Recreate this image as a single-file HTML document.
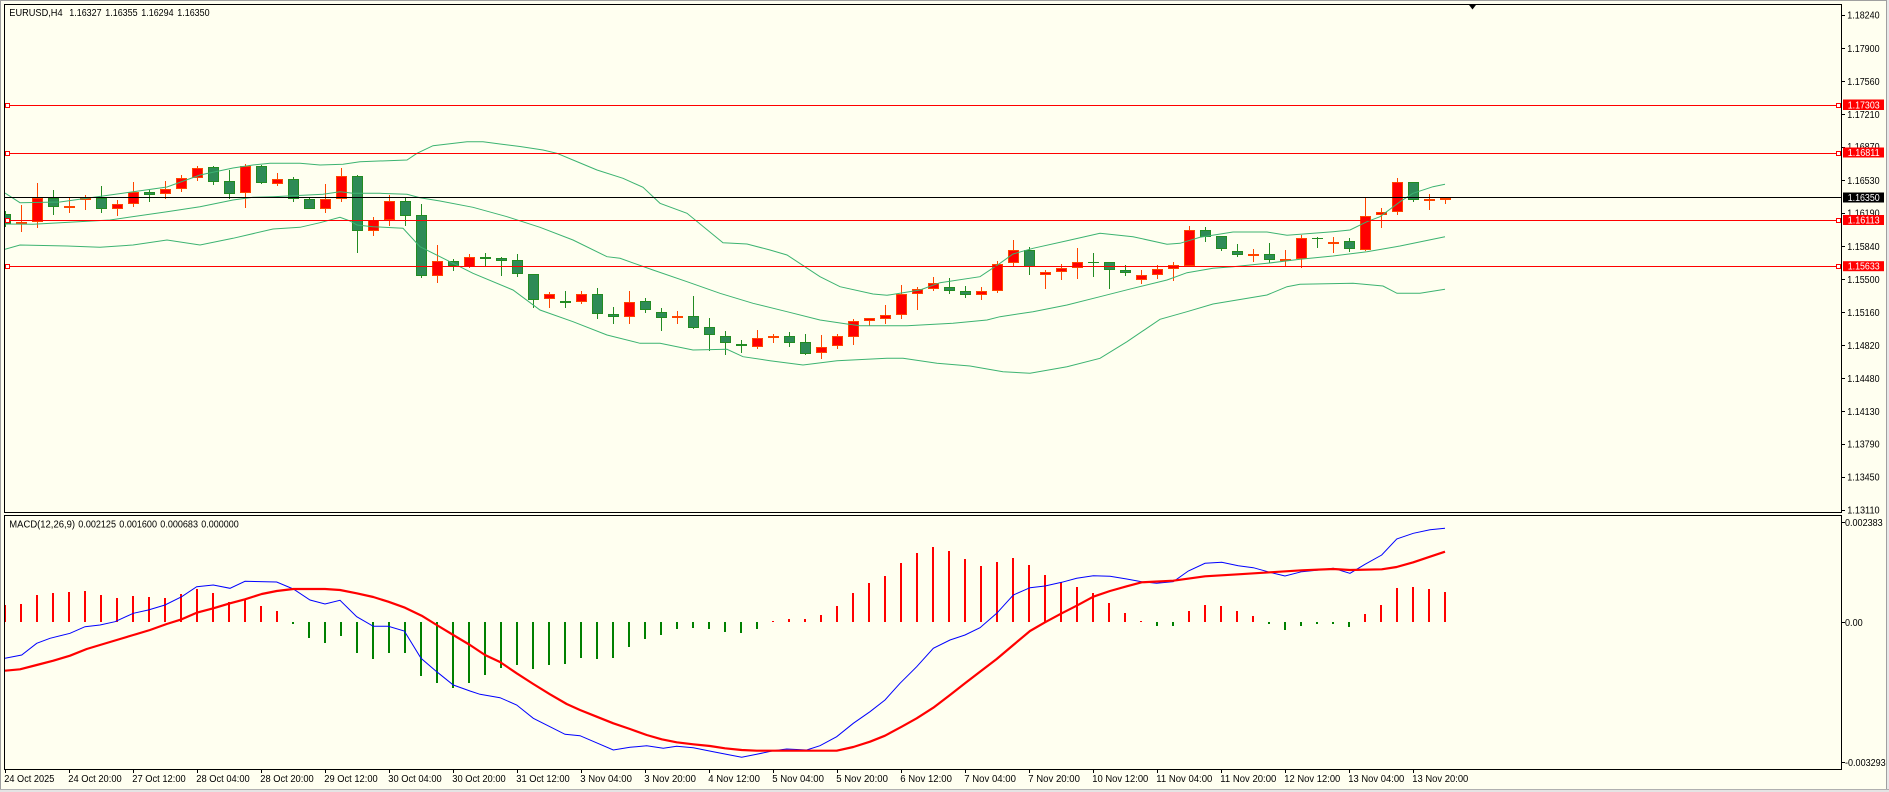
<!DOCTYPE html>
<html><head><meta charset="utf-8"><style>
html,body{margin:0;padding:0;background:#FFFFF0;}
svg{display:block;}
text{font-family:"Liberation Sans",Arial,sans-serif;font-size:10px;fill:#000;}
</style></head><body>
<svg xmlns="http://www.w3.org/2000/svg" width="1889" height="792" viewBox="0 0 1889 792">
<defs>
<clipPath id="cm"><rect x="5" y="5" width="1836" height="507"/></clipPath>
<clipPath id="cs"><rect x="5" y="516" width="1836" height="253"/></clipPath>
</defs>
<rect x="0" y="0" width="1889" height="792" fill="#FFFFF0"/>
<rect x="0" y="0" width="1889" height="1" fill="#A0A0A0"/>
<rect x="0" y="0" width="1" height="792" fill="#A0A0A0"/>
<rect x="1887" y="0" width="2" height="792" fill="#E8E8E8"/>
<rect x="1886" y="0" width="1" height="792" fill="#A0A0A0"/>
<rect x="0" y="789" width="1889" height="3" fill="#E4E4E4"/>
<rect x="0" y="789" width="1889" height="1" fill="#B0B0B0"/>

<g clip-path="url(#cm)">
<!-- red wicks -->
<path fill="none" stroke="#FF4500" stroke-width="1" d="M21.5 205V232M37.5 183V228M69.5 197V213M85.5 195V210M117.5 200V216M133.5 182V207M165.5 181V199M181.5 175V192M197.5 166V181M245.5 164V208M277.5 173V186M325.5 184V213M341.5 168V202M373.5 217V236M389.5 195V226M437.5 245V283M469.5 254V268M549.5 292V308M581.5 291V304M629.5 291V324M677.5 311V324M757.5 330V349M773.5 334V343M821.5 335V359M837.5 334V349M853.5 319V345M869.5 318V326M885.5 305V324M901.5 285V319M917.5 287V310M933.5 277V291M981.5 287V300M997.5 261V293M1013.5 240V266M1045.5 270V289M1061.5 264V280M1077.5 248V279M1141.5 270V284M1157.5 265V279M1173.5 262V281M1189.5 226V267M1253.5 249V262M1285.5 250V266M1301.5 235V268M1333.5 237V253M1365.5 198V251M1381.5 208V228M1397.5 178V215M1429.5 194V210M1445.5 198V204"/>
<!-- green wicks -->
<path fill="none" stroke="#228B22" stroke-width="1" d="M5.5 211V227M53.5 190V215M101.5 186V213M149.5 190V202M213.5 166V185M229.5 170V199M261.5 165V184M293.5 177V202M309.5 197V209M357.5 175V253M405.5 197V226M421.5 204V278M453.5 259V271M485.5 253V266M501.5 257V276M517.5 254V277M533.5 274V308M565.5 291V308M597.5 288V319M613.5 307V324M645.5 298V313M661.5 308V331M693.5 296V329M709.5 318V351M725.5 331V355M741.5 340V353M789.5 332V347M805.5 334V355M949.5 278V294M965.5 286V298M1029.5 247V275M1093.5 253V277M1109.5 262V289M1125.5 265V276M1205.5 227V242M1221.5 236V251M1237.5 244V257M1269.5 243V263M1317.5 237V248M1349.5 238V252M1413.5 182V202"/>
<!-- red bodies -->
<g fill="#FF0000" stroke="#FF4500" stroke-width="1">
<rect x="16.5" y="222.5" width="10" height="1"/>
<rect x="32.5" y="198.5" width="10" height="23"/>
<rect x="64.5" y="206.5" width="10" height="1"/>
<rect x="80.5" y="198.5" width="10" height="1"/>
<rect x="112.5" y="204.5" width="10" height="4"/>
<rect x="128.5" y="192.5" width="10" height="11"/>
<rect x="160.5" y="189.5" width="10" height="4"/>
<rect x="176.5" y="178.5" width="10" height="10"/>
<rect x="192.5" y="168.5" width="10" height="9"/>
<rect x="240.5" y="166.5" width="10" height="26"/>
<rect x="272.5" y="179.5" width="10" height="4"/>
<rect x="320.5" y="199.5" width="10" height="9"/>
<rect x="336.5" y="176.5" width="10" height="22"/>
<rect x="368.5" y="220.5" width="10" height="10"/>
<rect x="384.5" y="201.5" width="10" height="18"/>
<rect x="432.5" y="261.5" width="10" height="14"/>
<rect x="464.5" y="257.5" width="10" height="9"/>
<rect x="544.5" y="294.5" width="10" height="4"/>
<rect x="576.5" y="294.5" width="10" height="7"/>
<rect x="624.5" y="302.5" width="10" height="14"/>
<rect x="672.5" y="316.5" width="10" height="1"/>
<rect x="752.5" y="338.5" width="10" height="8"/>
<rect x="768.5" y="336.5" width="10" height="1"/>
<rect x="816.5" y="347.5" width="10" height="5"/>
<rect x="832.5" y="336.5" width="10" height="9"/>
<rect x="848.5" y="321.5" width="10" height="15"/>
<rect x="864.5" y="318.5" width="10" height="2"/>
<rect x="880.5" y="315.5" width="10" height="3"/>
<rect x="896.5" y="294.5" width="10" height="20"/>
<rect x="912.5" y="289.5" width="10" height="4"/>
<rect x="928.5" y="283.5" width="10" height="5"/>
<rect x="976.5" y="291.5" width="10" height="3"/>
<rect x="992.5" y="264.5" width="10" height="26"/>
<rect x="1008.5" y="250.5" width="10" height="12"/>
<rect x="1040.5" y="272.5" width="10" height="2"/>
<rect x="1056.5" y="268.5" width="10" height="3"/>
<rect x="1072.5" y="262.5" width="10" height="5"/>
<rect x="1136.5" y="275.5" width="10" height="4"/>
<rect x="1152.5" y="269.5" width="10" height="5"/>
<rect x="1168.5" y="265.5" width="10" height="3"/>
<rect x="1184.5" y="230.5" width="10" height="35"/>
<rect x="1248.5" y="254.5" width="10" height="1"/>
<rect x="1280.5" y="259.5" width="10" height="1"/>
<rect x="1296.5" y="238.5" width="10" height="20"/>
<rect x="1328.5" y="242.5" width="10" height="1"/>
<rect x="1360.5" y="216.5" width="10" height="33"/>
<rect x="1376.5" y="212.5" width="10" height="2"/>
<rect x="1392.5" y="182.5" width="10" height="29"/>
<rect x="1424.5" y="199.5" width="10" height="1"/>
<rect x="1440.5" y="198.5" width="10" height="1"/>
</g>
<!-- green bodies -->
<g fill="#2E8B57" stroke="#228B22" stroke-width="1">
<rect x="0.5" y="214.5" width="10" height="9"/>
<rect x="48.5" y="198.5" width="10" height="8"/>
<rect x="96.5" y="198.5" width="10" height="10"/>
<rect x="144.5" y="192.5" width="10" height="2"/>
<rect x="208.5" y="167.5" width="10" height="14"/>
<rect x="224.5" y="181.5" width="10" height="12"/>
<rect x="256.5" y="166.5" width="10" height="16"/>
<rect x="288.5" y="179.5" width="10" height="19"/>
<rect x="304.5" y="199.5" width="10" height="9"/>
<rect x="352.5" y="176.5" width="10" height="54"/>
<rect x="400.5" y="201.5" width="10" height="14"/>
<rect x="416.5" y="215.5" width="10" height="60"/>
<rect x="448.5" y="261.5" width="10" height="4"/>
<rect x="480.5" y="257.5" width="10" height="1"/>
<rect x="496.5" y="258.5" width="10" height="2"/>
<rect x="512.5" y="260.5" width="10" height="13"/>
<rect x="528.5" y="274.5" width="10" height="25"/>
<rect x="560.5" y="301.5" width="10" height="1"/>
<rect x="592.5" y="294.5" width="10" height="19"/>
<rect x="608.5" y="314.5" width="10" height="2"/>
<rect x="640.5" y="301.5" width="10" height="8"/>
<rect x="656.5" y="312.5" width="10" height="5"/>
<rect x="688.5" y="316.5" width="10" height="11"/>
<rect x="704.5" y="327.5" width="10" height="7"/>
<rect x="720.5" y="336.5" width="10" height="6"/>
<rect x="736.5" y="344.5" width="10" height="1"/>
<rect x="784.5" y="336.5" width="10" height="6"/>
<rect x="800.5" y="342.5" width="10" height="11"/>
<rect x="944.5" y="287.5" width="10" height="3"/>
<rect x="960.5" y="291.5" width="10" height="3"/>
<rect x="1024.5" y="250.5" width="10" height="16"/>
<rect x="1104.5" y="262.5" width="10" height="7"/>
<rect x="1120.5" y="270.5" width="10" height="2"/>
<rect x="1200.5" y="230.5" width="10" height="6"/>
<rect x="1216.5" y="236.5" width="10" height="12"/>
<rect x="1232.5" y="251.5" width="10" height="3"/>
<rect x="1264.5" y="254.5" width="10" height="5"/>
<rect x="1344.5" y="241.5" width="10" height="7"/>
<rect x="1408.5" y="182.5" width="10" height="17"/>
</g>
<path fill="none" stroke="#228B22" stroke-width="1" d="M1088 262.5H1099M1312 238.5H1323"/>

<!-- Bollinger bands -->
<g fill="none" stroke="#3CB371" stroke-width="1">
<polyline points="5,193 20,202.7 60,202 110,195 167,187 200,175 233,168 253,165 270,163.3 300,163.3 320,165 343,164.3 360,161.7 407,160 417,153.3 433,145.7 467,141.7 483,141.7 500,144 520,146.5 543,150 557,153.3 573,160 597,170 623,178.3 643,187.3 660,203.3 687,213.3 723,242.7 747,244 770,250 787,255 820,276.7 840,286.7 873,294 887,295.3 920,290 940,282.7 980,276.7 1000,263.3 1013,254 1033,248.3 1067,240.7 1100,233.3 1133,236.7 1167,244.3 1180,243.3 1200,237.3 1233,232 1267,232 1287,235.3 1333,231.7 1350,230 1367,221.7 1380,216.7 1400,201.7 1413,193.3 1433,186.7 1445,184.3"/>
<polyline points="5,224 33,224.3 110,220 167,211.7 200,206.7 233,200 253,197.3 273,196.7 323,194.3 340,191.7 353,193.3 380,193.3 407,194.3 420,197.7 440,201 473,207.3 507,216.7 540,227.3 573,240 607,256.7 620,258.3 653,270 687,281.7 720,293.3 753,303.3 787,311.7 820,320 847,324 860,325.7 907,325.7 953,323.3 987,320 1000,316.7 1033,311.7 1067,305 1100,296.7 1133,288.3 1167,280 1187,272.7 1213,268.3 1233,266.7 1267,263.3 1300,259.3 1333,256 1367,251.7 1400,246 1445,236.7"/>
<polyline points="5,249.3 20,245 67,246 100,247.3 133,245 167,240 200,245 233,238.3 273,229 300,227.3 320,222.7 340,217.3 350,221 357,225 373,226.7 403,228.3 420,246.7 440,256.7 473,273.3 513,290 540,310 573,321.7 607,335 640,343.3 660,343.3 693,350 727,349.3 743,356.7 770,360.7 803,365 837,360.7 887,358.3 903,358.3 937,363.3 970,366 1003,371.7 1030,373.3 1067,366.7 1100,358.3 1127,341.7 1160,319.3 1187,311.7 1213,304 1267,295 1287,286.7 1300,284.3 1353,283.3 1383,286 1397,293.3 1420,293.3 1445,289.3"/>
</g>

<!-- horizontal lines -->
<path fill="none" stroke="#FF0000" stroke-width="1" d="M4 105.5H1841M4 153.5H1841M4 220.5H1841M4 266.5H1841"/>
<path fill="none" stroke="#000000" stroke-width="1" d="M4 197.5H1841"/>
<g fill="#FFFFFF" stroke="#FF0000" stroke-width="1">
<rect x="5.5" y="103.5" width="4" height="4"/>
<rect x="5.5" y="151.5" width="4" height="4"/>
<rect x="5.5" y="218.5" width="4" height="4"/>
<rect x="5.5" y="264.5" width="4" height="4"/>
<rect x="1836.5" y="103.5" width="4" height="4"/>
<rect x="1836.5" y="151.5" width="4" height="4"/>
<rect x="1836.5" y="218.5" width="4" height="4"/>
<rect x="1836.5" y="264.5" width="4" height="4"/>
</g>
</g>

<!-- MACD subwindow -->
<g clip-path="url(#cs)">
<path fill="none" stroke="#FF0000" stroke-width="2" d="M5 622V605M21 622V604M37 622V595M53 622V593M69 622V592M85 622V591M101 622V595M117 622V598M133 622V596M149 622V597M165 622V598M181 622V594M197 622V589M213 622V593M229 622V602M245 622V599M261 622V606M277 622V611M773 622V621M789 622V619M805 622V619M821 622V615M837 622V606M853 622V593M869 622V583M885 622V576M901 622V563M917 622V553M933 622V547M949 622V551M965 622V559M981 622V566M997 622V562M1013 622V558M1029 622V565M1045 622V575M1061 622V582M1077 622V587M1093 622V593M1109 622V603M1125 622V613M1141 622V621M1189 622V611M1205 622V605M1221 622V606M1237 622V611M1253 622V616M1365 622V614M1381 622V605M1397 622V588M1413 622V587M1429 622V589M1445 622V592"/>
<path fill="none" stroke="#008000" stroke-width="2" d="M293 622V624M309 622V638M325 622V643M341 622V636M357 622V653M373 622V659M389 622V653M405 622V653M421 622V676M437 622V683M453 622V688M469 622V683M485 622V675M501 622V668M517 622V665M533 622V669M549 622V665M565 622V664M581 622V658M597 622V659M613 622V658M629 622V647M645 622V639M661 622V635M677 622V629M693 622V628M709 622V629M725 622V632M741 622V633M757 622V629M1157 622V626M1173 622V626M1269 622V624M1285 622V630M1301 622V626M1317 622V624M1333 622V624M1349 622V627"/>
<polyline fill="none" stroke="#0000FF" stroke-width="1" points="5,658.3 21.7,655 36.7,643.3 50,638.3 70,633.3 85,626.7 100,625 115,621.7 133.3,613.3 148.3,610 165,605 181.7,596.7 196.7,586.7 213.3,585 230,588.3 245,581.3 276.7,582 293.3,589 310,600 325,604 340,600.3 356.7,616.7 373.3,626.3 388.3,626.3 404.3,631 421,658.3 436.7,671.7 453.3,685 470,691 480,694.3 500,697.7 516.7,705 533.3,718.3 565,734.3 580,735.7 613.3,750 630,747.3 646.7,745.7 663.3,748.3 676.7,746.3 693.3,747.7 713.3,751.7 730,755 741.7,757.3 756.7,754.3 773.3,750.7 786.7,749 806.7,750 820,745.7 836.7,736.7 853.3,723.3 870,711.7 885,700 900,683.3 916.7,666.7 933.3,648.3 950,640 965,635 980,627.7 996.7,613.3 1013.3,595 1030,587.7 1045,586 1061.7,582.3 1076.7,578.3 1093.3,575.7 1110,576.3 1126.7,579 1141.7,581.7 1156.7,583.3 1173.3,581.7 1188.3,571 1205,563.3 1221.7,562.3 1238.3,565.7 1253.3,567.7 1270,572.3 1285,576 1301.7,571.7 1316.7,570.3 1333.3,568.3 1350,573.3 1365,564.3 1381.7,555 1396.7,539 1413.3,533.3 1430,529.7 1445,528.3"/>
<polyline fill="none" stroke="#FF0000" stroke-width="2.2" stroke-linejoin="round" points="5,670.7 20,669.3 36.7,665 53.3,660.7 70,655.7 86.7,649 100,645 116.7,640 133.3,635 150,630 166.7,624 181.7,619.3 196.7,612.7 213.3,608.3 230,603.3 245,599.3 261.7,594 276.7,591 293.3,589 325,589 340,590 356.7,593.3 373.3,597 388.3,601.7 405,607.7 421.7,615.7 436.7,625 453.3,635 470,645 485,655 500,662 516.7,673.3 533.3,684 550,694.3 566.7,704 580,710 596.7,716.7 613.3,723.3 630,729 646.7,735 661.7,739.3 676.7,742.3 693.3,744.3 710,746 725,748.3 741.7,750 756.7,750.7 836.7,750.7 853.3,747 870,741.7 885,735.7 901.7,726.7 916.7,718.3 933.3,707.7 950,695 965,683.3 980,671.7 996.7,659 1013.3,645 1030,631 1045,622.3 1061.7,613.3 1076.7,605.7 1093.3,596.7 1110,591 1126.7,586.3 1141.7,582.3 1173.3,580.7 1205,576.3 1238.3,574.3 1270,572.3 1301.7,570.3 1333.3,569 1350,570 1381.7,569.3 1396.7,567 1413.3,562.3 1430,556.7 1445,551.7"/>
</g>

<!-- borders -->
<g fill="none" stroke="#000" stroke-width="1">
<rect x="4.5" y="4.5" width="1837" height="508"/>
<rect x="4.5" y="515.5" width="1837" height="254"/>
</g>
<polygon points="1468.3,4 1476.7,4 1472.5,9.5" fill="#000"/>

<!-- price axis ticks -->
<path fill="none" stroke="#000" stroke-width="1" d="M1842 15.5H1845M1842 48.5H1845M1842 81.5H1845M1842 114.5H1845M1842 147.5H1845M1842 180.5H1845M1842 213.5H1845M1842 246.5H1845M1842 279.5H1845M1842 312.5H1845M1842 345.5H1845M1842 378.5H1845M1842 411.5H1845M1842 444.5H1845M1842 477.5H1845M1842 510.5H1845M1842 522.5H1845M1842 622.5H1845M1842 762.5H1845"/>
<g>
<text x="1847.3" y="18.5" textLength="32.3" lengthAdjust="spacingAndGlyphs">1.18240</text>
<text x="1847.3" y="51.8" textLength="32.3" lengthAdjust="spacingAndGlyphs">1.17900</text>
<text x="1847.3" y="85" textLength="32.3" lengthAdjust="spacingAndGlyphs">1.17560</text>
<text x="1847.3" y="117.8" textLength="32.3" lengthAdjust="spacingAndGlyphs">1.17210</text>
<text x="1847.3" y="150.2" textLength="32.3" lengthAdjust="spacingAndGlyphs">1.16870</text>
<text x="1847.3" y="183.8" textLength="32.3" lengthAdjust="spacingAndGlyphs">1.16530</text>
<text x="1847.3" y="216.5" textLength="32.3" lengthAdjust="spacingAndGlyphs">1.16190</text>
<text x="1847.3" y="249.8" textLength="32.3" lengthAdjust="spacingAndGlyphs">1.15840</text>
<text x="1847.3" y="282.8" textLength="32.3" lengthAdjust="spacingAndGlyphs">1.15500</text>
<text x="1847.3" y="315.8" textLength="32.3" lengthAdjust="spacingAndGlyphs">1.15160</text>
<text x="1847.3" y="348.8" textLength="32.3" lengthAdjust="spacingAndGlyphs">1.14820</text>
<text x="1847.3" y="381.8" textLength="32.3" lengthAdjust="spacingAndGlyphs">1.14480</text>
<text x="1847.3" y="414.8" textLength="32.3" lengthAdjust="spacingAndGlyphs">1.14130</text>
<text x="1847.3" y="447.5" textLength="32.3" lengthAdjust="spacingAndGlyphs">1.13790</text>
<text x="1847.3" y="480.5" textLength="32.3" lengthAdjust="spacingAndGlyphs">1.13450</text>
<text x="1847.3" y="513.5" textLength="32.3" lengthAdjust="spacingAndGlyphs">1.13110</text>
</g>
<!-- price boxes -->
<rect x="1843" y="99.5" width="41" height="10.5" fill="#FF0000"/>
<rect x="1843" y="147.5" width="41" height="10" fill="#FF0000"/>
<rect x="1843" y="192.5" width="41" height="10" fill="#000000"/>
<rect x="1843" y="215" width="41" height="10" fill="#FF0000"/>
<rect x="1843" y="261.2" width="41" height="10" fill="#FF0000"/>
<g style="fill:#FFFFFF">
<text x="1847.7" y="108.3" textLength="32" lengthAdjust="spacingAndGlyphs" style="fill:#fff">1.17303</text>
<text x="1847.7" y="156.2" textLength="32" lengthAdjust="spacingAndGlyphs" style="fill:#fff">1.16811</text>
<text x="1847.7" y="201" textLength="32" lengthAdjust="spacingAndGlyphs" style="fill:#fff">1.16350</text>
<text x="1847.7" y="223.5" textLength="32" lengthAdjust="spacingAndGlyphs" style="fill:#fff">1.16113</text>
<text x="1847.7" y="269.7" textLength="32" lengthAdjust="spacingAndGlyphs" style="fill:#fff">1.15633</text>
</g>
<!-- MACD axis -->
<text x="1845" y="525.8" textLength="37.7" lengthAdjust="spacingAndGlyphs">0.002383</text>
<text x="1845" y="625.8" textLength="17.7" lengthAdjust="spacingAndGlyphs">0.00</text>
<text x="1845" y="765.8" textLength="40.7" lengthAdjust="spacingAndGlyphs">-0.003293</text>

<!-- headers -->
<text x="9.3" y="16.2" textLength="53.3" lengthAdjust="spacingAndGlyphs">EURUSD,H4</text>
<text x="69.3" y="16.2" textLength="32.3" lengthAdjust="spacingAndGlyphs">1.16327</text>
<text x="105.3" y="16.2" textLength="32.3" lengthAdjust="spacingAndGlyphs">1.16355</text>
<text x="141.3" y="16.2" textLength="32.3" lengthAdjust="spacingAndGlyphs">1.16294</text>
<text x="177.3" y="16.2" textLength="32.3" lengthAdjust="spacingAndGlyphs">1.16350</text>
<text x="9.3" y="527.7" textLength="65.7" lengthAdjust="spacingAndGlyphs">MACD(12,26,9)</text>
<text x="78.3" y="527.7" textLength="37.7" lengthAdjust="spacingAndGlyphs">0.002125</text>
<text x="119.3" y="527.7" textLength="37.7" lengthAdjust="spacingAndGlyphs">0.001600</text>
<text x="160.3" y="527.7" textLength="37.7" lengthAdjust="spacingAndGlyphs">0.000683</text>
<text x="201.3" y="527.7" textLength="37.4" lengthAdjust="spacingAndGlyphs">0.000000</text>

<!-- time axis ticks -->
<path fill="none" stroke="#000" stroke-width="1" d="M5.5 770V773M69.5 770V773M133.5 770V773M197.5 770V773M261.5 770V773M325.5 770V773M389.5 770V773M453.5 770V773M517.5 770V773M581.5 770V773M645.5 770V773M709.5 770V773M773.5 770V773M837.5 770V773M901.5 770V773M965.5 770V773M1029.5 770V773M1093.5 770V773M1157.5 770V773M1221.5 770V773M1285.5 770V773M1349.5 770V773M1413.5 770V773"/>
<g>
<text x="4.3" y="781.8" textLength="50" lengthAdjust="spacingAndGlyphs">24 Oct 2025</text>
<text x="68.3" y="781.8" textLength="53.4" lengthAdjust="spacingAndGlyphs">24 Oct 20:00</text>
<text x="132.3" y="781.8" textLength="53.4" lengthAdjust="spacingAndGlyphs">27 Oct 12:00</text>
<text x="196.3" y="781.8" textLength="53.4" lengthAdjust="spacingAndGlyphs">28 Oct 04:00</text>
<text x="260.3" y="781.8" textLength="53.4" lengthAdjust="spacingAndGlyphs">28 Oct 20:00</text>
<text x="324.3" y="781.8" textLength="53.4" lengthAdjust="spacingAndGlyphs">29 Oct 12:00</text>
<text x="388.3" y="781.8" textLength="53.4" lengthAdjust="spacingAndGlyphs">30 Oct 04:00</text>
<text x="452.3" y="781.8" textLength="53.4" lengthAdjust="spacingAndGlyphs">30 Oct 20:00</text>
<text x="516.3" y="781.8" textLength="53.4" lengthAdjust="spacingAndGlyphs">31 Oct 12:00</text>
<text x="580.3" y="781.8" textLength="51.6" lengthAdjust="spacingAndGlyphs">3 Nov 04:00</text>
<text x="644.3" y="781.8" textLength="51.6" lengthAdjust="spacingAndGlyphs">3 Nov 20:00</text>
<text x="708.3" y="781.8" textLength="51.6" lengthAdjust="spacingAndGlyphs">4 Nov 12:00</text>
<text x="772.3" y="781.8" textLength="51.6" lengthAdjust="spacingAndGlyphs">5 Nov 04:00</text>
<text x="836.3" y="781.8" textLength="51.6" lengthAdjust="spacingAndGlyphs">5 Nov 20:00</text>
<text x="900.3" y="781.8" textLength="51.6" lengthAdjust="spacingAndGlyphs">6 Nov 12:00</text>
<text x="964.3" y="781.8" textLength="51.6" lengthAdjust="spacingAndGlyphs">7 Nov 04:00</text>
<text x="1028.3" y="781.8" textLength="51.6" lengthAdjust="spacingAndGlyphs">7 Nov 20:00</text>
<text x="1092.3" y="781.8" textLength="56" lengthAdjust="spacingAndGlyphs">10 Nov 12:00</text>
<text x="1156.3" y="781.8" textLength="56" lengthAdjust="spacingAndGlyphs">11 Nov 04:00</text>
<text x="1220.3" y="781.8" textLength="56" lengthAdjust="spacingAndGlyphs">11 Nov 20:00</text>
<text x="1284.3" y="781.8" textLength="56" lengthAdjust="spacingAndGlyphs">12 Nov 12:00</text>
<text x="1348.3" y="781.8" textLength="56" lengthAdjust="spacingAndGlyphs">13 Nov 04:00</text>
<text x="1412.3" y="781.8" textLength="56" lengthAdjust="spacingAndGlyphs">13 Nov 20:00</text>
</g>
</svg>
</body></html>
